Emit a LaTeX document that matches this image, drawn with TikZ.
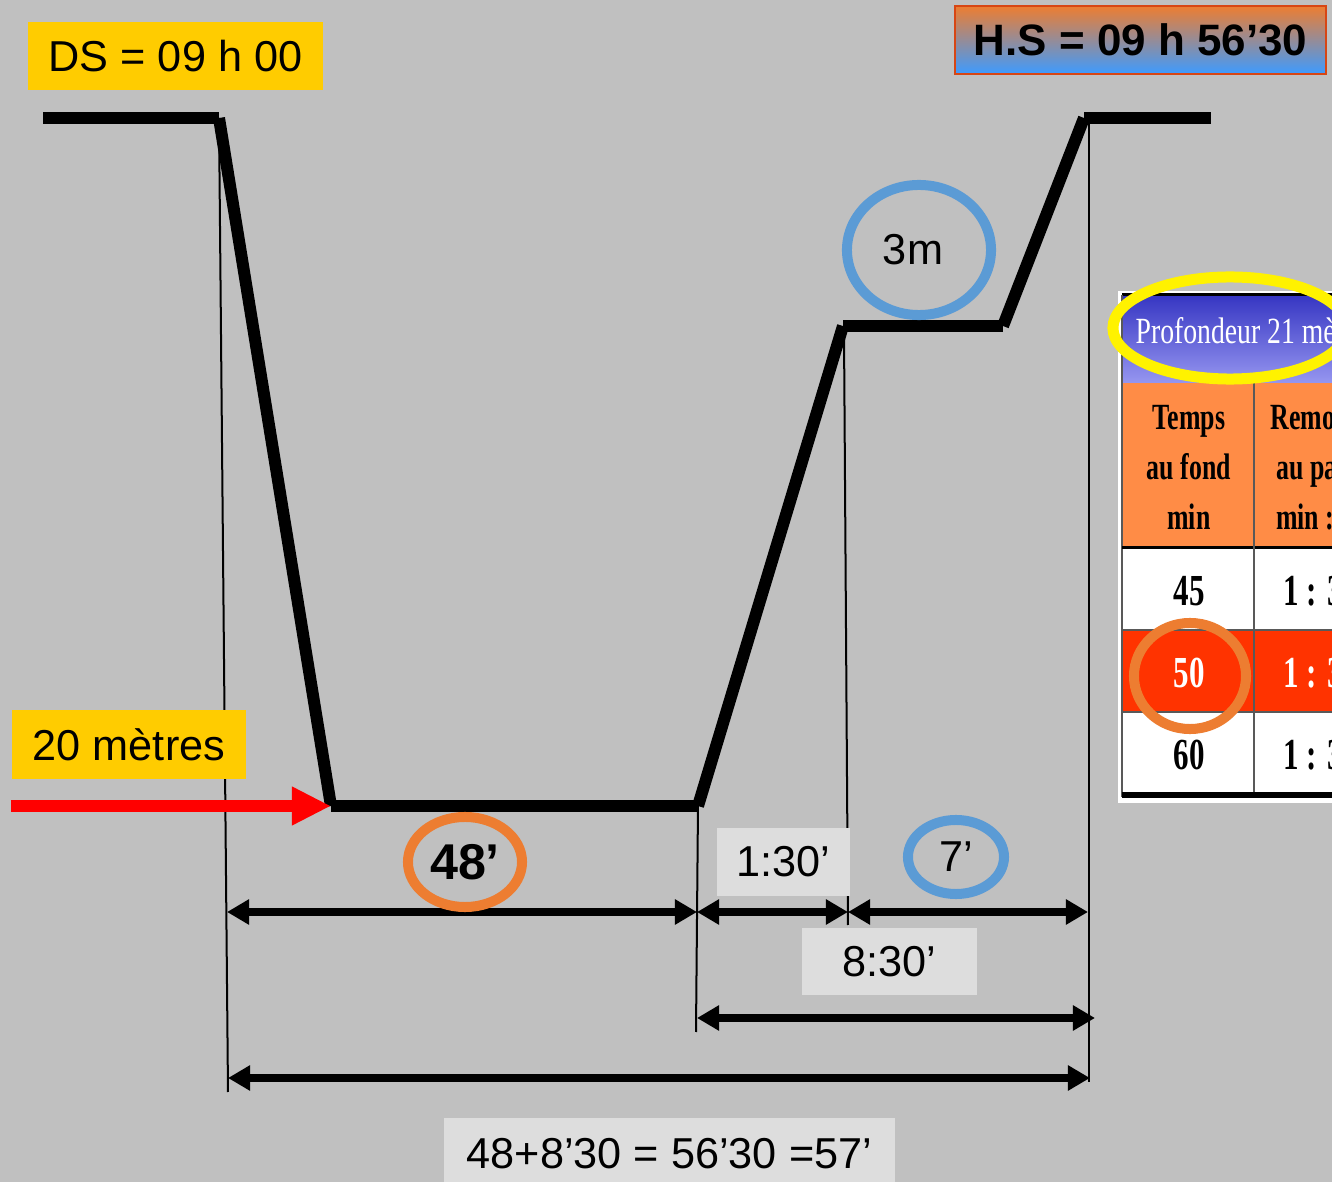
\documentclass[tikz,border=0pt]{standalone}
\usepackage{fontspec}
\setmainfont{Liberation Sans}
\newfontfamily\tabfont[FakeStretch=0.75]{Liberation Serif}
\newfontfamily\tabboldfont[FakeStretch=0.7]{Liberation Serif Bold}
\usetikzlibrary{arrows.meta,shapes.geometric}

\definecolor{bggray}{RGB}{192,192,192}
\definecolor{boxyellow}{RGB}{255,204,0}
\definecolor{boxgray}{RGB}{221,221,221}
\definecolor{ringblue}{RGB}{91,155,213}
\definecolor{ringorange}{RGB}{237,125,49}
\definecolor{hsorange}{RGB}{237,125,49}
\definecolor{hsblue}{RGB}{61,155,255}
\definecolor{hsborder}{RGB}{215,70,20}
\definecolor{tabblue}{RGB}{55,55,195}
\definecolor{tabbluelt}{RGB}{150,150,240}
\definecolor{taborange}{RGB}{255,140,70}
\definecolor{tabred}{RGB}{255,51,0}

\newcommand\labfont{\fontsize{12.3pt}{14pt}\selectfont}
\newcommand\cellfont{\tabboldfont\fontsize{12.6pt}{14pt}\selectfont}
\newcommand\headfont{\tabboldfont\fontsize{10.5pt}{14.2pt}\selectfont}

\tikzset{
    %Define standard arrow tip
    >={Triangle[length=0.22cm,width=0.24cm]},
    %Define style for boxes
    labelbox/.style={
           rectangle,
           inner sep=0pt,
           font=\labfont,
           text centered},
    yellowbox/.style={labelbox, fill=boxyellow},
    graybox/.style={labelbox, fill=boxgray},
    % Define style for rings
    ring/.style={
           ellipse,
           inner sep=0pt,
           line width=0.1cm,
           font=\labfont},
    % Define line styles
    profile/.style={line width=0.12cm},
    guide/.style={line width=0.02cm},
    span/.style={<->, line width=0.08cm},
    tabline/.style={gray!70!black, line width=0.02cm}
}

\begin{document}
\begin{tikzpicture}[x=0.01cm,y=-0.01cm]

\useasboundingbox (0,0) rectangle (1332,1182);
\clip (0,0) rectangle (1332,1182);
\fill[bggray] (0,0) rectangle (1332,1182);

 %dive profile
\coordinate (surfL) at (43,118);
\coordinate (descTop) at (219,118);
\coordinate (bottomL) at (331,806);
\coordinate (bottomR) at (698,806);
\coordinate (stopL) at (843,326);
\coordinate (stopR) at (1003,326);
\coordinate (surfR) at (1084,118);
\coordinate (surfEnd) at (1211,118);

\draw[profile] (surfL) -- (descTop);
\draw[profile] (descTop) -- (bottomL);
\draw[profile] (bottomL) -- (bottomR);
\draw[profile] (bottomR) -- (stopL);
\draw[profile] (stopL) -- (stopR);
\draw[profile] (stopR) -- (surfR);
\draw[profile] (surfR) -- (surfEnd);

 %guide lines
\coordinate (guideAbot) at (228,1092);
\coordinate (guideBbot) at (696,1032);
\coordinate (guideCtop) at (844,332);
\coordinate (guideCbot) at (848,925);
\coordinate (guideDtop) at (1089,124);
\coordinate (guideDbot) at (1089,1082);

\draw[guide] (descTop) -- (guideAbot);
\draw[guide] (bottomR) -- (guideBbot);
\draw[guide] (guideCtop) -- (guideCbot);
\draw[guide] (guideDtop) -- (guideDbot);

 %time spans
\coordinate (spanA1) at (227,912);
\coordinate (spanB1) at (697,912);
\coordinate (spanC1) at (848,912);
\coordinate (spanD1) at (1088,912);
\coordinate (spanB2) at (697,1018);
\coordinate (spanD2) at (1095,1018);
\coordinate (spanA3) at (228,1078);
\coordinate (spanD3) at (1090,1078);

\draw[span] (spanA1) -- (spanB1);
\draw[span] (spanB1) -- (spanC1);
\draw[span] (spanC1) -- (spanD1);
\draw[span] (spanB2) -- (spanD2);
\draw[span] (spanA3) -- (spanD3);

 %depth arrow
\coordinate (redStart) at (11,806);
\draw[red, line width=0.12cm, -{Triangle[length=0.39cm,width=0.36cm]}] (redStart) -- (bottomL);

 %labels
\node[yellowbox, minimum width=2.95cm, minimum height=0.68cm] (ds) at (175.5,56) {DS = 09 h 00};
\node[labelbox, draw=hsborder, line width=0.02cm, top color=hsorange, bottom color=hsblue,
      middle color=hsorange!50!hsblue, font=\bfseries\fontsize{12.5pt}{14pt}\selectfont,
      minimum width=3.71cm, minimum height=0.68cm] (hs) at (1140.5,40) {H.S = 09 h 56’30};
\node[yellowbox, minimum width=2.34cm, minimum height=0.69cm] (depth) at (129,744.5) {20 mètres};
\node[graybox, minimum width=1.33cm, minimum height=0.68cm] (stopTime) at (783.5,862) {1:30’};
\node[graybox, minimum width=1.75cm, minimum height=0.67cm] (ascentTime) at (889.5,961.5) {8:30’};
\node[graybox, minimum width=4.51cm, minimum height=0.72cm] (total) at (669.5,1154) {48+8’30 = 56’30 =57’};

\node[ring, draw=ringblue, minimum width=1.44cm, minimum height=1.30cm] (stopDepth) at (919,250) {3m\hspace*{0.12cm}};
\node[ring, draw=ringorange, minimum width=1.14cm, minimum height=0.90cm,
      font=\bfseries\fontsize{14.3pt}{16pt}\selectfont] (bottomTime) at (465,862) {48’};
\node[ring, draw=ringblue, minimum width=0.96cm, minimum height=0.74cm] (stopLength) at (956,857) {7’};

 %table
\fill[white] (1118,291) rectangle (1340,803);
\shade[top color=tabblue, bottom color=tabbluelt] (1122,296) rectangle (1340,383);
\fill[taborange] (1122,383) rectangle (1340,548);
\fill[tabred] (1122,630) rectangle (1340,712);
\draw[line width=0.03cm] (1122,295) -- (1340,295);
\draw[tabline] (1122,295) -- (1122,797);
\draw[line width=0.03cm] (1122,548) -- (1340,548);
\draw[tabline] (1122,630) -- (1340,630);
\draw[tabline] (1122,712) -- (1340,712);
\draw[tabline] (1254,383) -- (1254,794);
\draw[line width=0.05cm] (1122,795) -- (1340,795);

\node[anchor=west, inner sep=0pt, text=white, font=\tabfont\fontsize{10.5pt}{12pt}\selectfont] (tabTitle) at (1135,331) {Profondeur 21 mètres};
\node[align=center, font=\headfont] (colTime) at (1189,467) {Temps\\au fond\\min};
\node[align=center, font=\headfont] (colStop) at (1326,467) {Remontée\\au palier\\min : sec};
\node[font=\cellfont] (t45) at (1189,591) {45};
\node[font=\cellfont, text=white] (t50) at (1189,673) {50};
\node[font=\cellfont] (t60) at (1189,755) {60};
\node[font=\cellfont] (s45) at (1321,591) {1 : 30};
\node[font=\cellfont, text=white] (s50) at (1321,673) {1 : 30};
\node[font=\cellfont] (s60) at (1321,755) {1 : 30};

\draw[yellow, line width=0.11cm] (1230,328) ellipse [x radius=1.17cm, y radius=0.51cm];
\node[ring, draw=ringorange, minimum width=1.12cm, minimum height=1.06cm] (ringFifty) at (1190,676) {};

\end{tikzpicture}
\end{document}
